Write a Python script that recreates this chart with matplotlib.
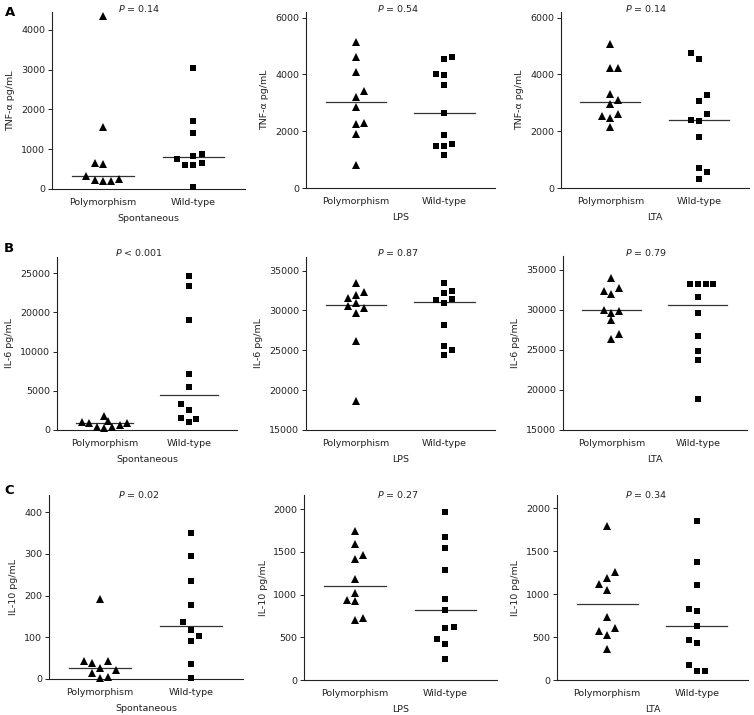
import matplotlib

matplotlib.use("Agg")
import matplotlib.pyplot as plt  # noqa: E402
import numpy as np  # noqa: E402

groups = ["Polymorphism", "Wild-type"]
stimuli = ["Spontaneous", "LPS", "LTA"]
row_letters = ["A", "B", "C"]
y_labels = ["TNF-\u03b1 pg/mL", "IL-6 pg/mL", "IL-10 pg/mL"]
p_texts = [
    ["= 0.14", "= 0.54", "= 0.14"],
    ["< 0.001", "= 0.87", "= 0.79"],
    ["= 0.02", "= 0.27", "= 0.34"],
]

# TNF-alpha (pg/mL); *_slot = side-by-side position of overlapping dots
tnf_spont_poly = [4350, 1550, 650, 620, 330, 230, 190, 190, 240]
tnf_spont_poly_slot = [0, 0, -1, 0, -2, -1, 0, 1, 2]
tnf_spont_wt = [3050, 1720, 1420, 750, 600, 600, 840, 870, 660, 40]
tnf_spont_wt_slot = [0, 0, 0, -2, -1, 0, 0, 1, 1, 0]

tnf_lps_poly = [5150, 4630, 4070, 3400, 3220, 2870, 2260, 2290, 1890, 820]
tnf_lps_poly_slot = [0, 0, 0, 1, 0, 0, 0, 1, 0, 0]
tnf_lps_wt = [4540, 4610, 4010, 3970, 3620, 2640, 1880, 1470, 1470, 1560, 1170]
tnf_lps_wt_slot = [0, 1, -1, 0, 0, 0, 0, -1, 0, 1, 0]

tnf_lta_poly = [5090, 4210, 4230, 3300, 3100, 2960, 2530, 2610, 2460, 2150]
tnf_lta_poly_slot = [0, 0, 1, 0, 1, 0, -1, 1, 0, 0]
tnf_lta_wt = [4740, 4530, 3290, 3080, 2610, 2400, 2360, 1780, 700, 570, 320]
tnf_lta_wt_slot = [-1, 0, 1, 0, 1, -1, 0, 0, 0, 1, 0]

# IL-6 (pg/mL)
il6_spont_poly = [2250, 1500, 1230, 1070, 1180, 860, 540, 320, 430]
il6_spont_poly_slot = [0, 0.5, -3, -2, 3, 2, -1, 0, 1]
il6_spont_wt = [24600, 23000, 17500, 8940, 6850, 4180, 3210, 1870, 1340, 1710]
il6_spont_wt_slot = [0, 0, 0, 0, 0, -1, 0, -1, 0, 1]

il6_lps_poly = [33460, 31580, 31960, 32330, 30580, 30880, 30250, 29670, 26170, 18630]
il6_lps_poly_slot = [0, -1, 0, 1, -1, 0, 1, 0, 0, 0]
il6_lps_wt = [33460, 32170, 32380, 31330, 31420, 30880, 28210, 25500, 25080, 24380]
il6_lps_wt_slot = [0, 0, 1, -1, 1, 0, 0, 0, 1, 0]

il6_lta_poly = [33960, 32390, 32760, 31970, 30020, 29610, 29810, 28780, 27030, 26410]
il6_lta_poly_slot = [0, -1, 1, 0, -1, 0, 1, 0, 1, 0]
il6_lta_wt = [33200, 33200, 33200, 33200, 31540, 29590, 26760, 24900, 23780, 18860]
il6_lta_wt_slot = [-1, 0, 1, 2, 0, 0, 0, 0, 0, 0]

# IL-10 (pg/mL)
il10_spont_poly = [192, 44, 38, 43, 27, 22, 14, 2, 4]
il10_spont_poly_slot = [0, -2, -1, 1, 0, 2, -1, 0, 1]
il10_spont_wt = [350, 294, 235, 177, 137, 117, 103, 90, 35, 3]
il10_spont_wt_slot = [0, 0, 0, 0, -1, 0, 1, 0, 0, 0]

il10_lps_poly = [1742, 1586, 1418, 1461, 1184, 1023, 934, 922, 707, 730]
il10_lps_poly_slot = [0, 0, 0, 1, 0, 0, -1, 0, 0, 1]
il10_lps_wt = [1969, 1672, 1543, 1285, 953, 816, 609, 617, 484, 426, 242]
il10_lps_wt_slot = [0, 0, 0, 0, 0, 0, 0, 1, -1, 0, 0]

il10_lta_poly = [1794, 1257, 1191, 1113, 1043, 732, 576, 603, 521, 362]
il10_lta_poly_slot = [0, 1, 0, -1, 0, 0, -1, 1, 0, 0]
il10_lta_wt = [1848, 1370, 1101, 829, 805, 626, 467, 432, 171, 105, 105]
il10_lta_wt_slot = [0, 0, 0, -1, 0, 0, -1, 0, -1, 0, 1]

panels = [
    [
        (tnf_spont_poly, tnf_spont_poly_slot, tnf_spont_wt, tnf_spont_wt_slot),
        (tnf_lps_poly, tnf_lps_poly_slot, tnf_lps_wt, tnf_lps_wt_slot),
        (tnf_lta_poly, tnf_lta_poly_slot, tnf_lta_wt, tnf_lta_wt_slot),
    ],
    [
        (il6_spont_poly, il6_spont_poly_slot, il6_spont_wt, il6_spont_wt_slot),
        (il6_lps_poly, il6_lps_poly_slot, il6_lps_wt, il6_lps_wt_slot),
        (il6_lta_poly, il6_lta_poly_slot, il6_lta_wt, il6_lta_wt_slot),
    ],
    [
        (il10_spont_poly, il10_spont_poly_slot, il10_spont_wt, il10_spont_wt_slot),
        (il10_lps_poly, il10_lps_poly_slot, il10_lps_wt, il10_lps_wt_slot),
        (il10_lta_poly, il10_lta_poly_slot, il10_lta_wt, il10_lta_wt_slot),
    ],
]

# y axis: (ylim, tick positions, tick labels)
y_axes = [
    [
        ((0, 4450), [0, 1000, 2000, 3000, 4000], None),
        ((0, 6200), [0, 2000, 4000, 6000], None),
        ((0, 6200), [0, 2000, 4000, 6000], None),
    ],
    [
        ((0, 27600), [0, 6250, 12500, 18750, 25000], ["0", "5000", "10000", "20000", "25000"]),
        ((15000, 36700), [15000, 20000, 25000, 30000, 35000], None),
        ((15000, 36700), [15000, 20000, 25000, 30000, 35000], None),
    ],
    [
        ((0, 441), [0, 100, 200, 300, 400], None),
        ((0, 2165), [0, 500, 1000, 1500, 2000], None),
        ((0, 2155), [0, 500, 1000, 1500, 2000], None),
    ],
]

W, H = 754, 715
# axes boxes in pixels: left, bottom, right, top
boxes = [
    [(52, 189, 245, 12), (306, 188, 495, 12), (561, 188, 749, 12)],
    [(57, 430, 237, 257), (306, 430, 495, 257), (563, 430, 747, 256)],
    [(49, 679, 243, 495), (304, 680, 497, 495), (557, 680, 748, 495)],
]
p_x = [139, 398, 646]
p_y = [9, 252, 494]
letter_pos = [(10, 13), (9, 248), (9, 491)]

FS = 6.8
STEP = 0.09
HALF = 0.34

fig = plt.figure(figsize=(W / 100, H / 100), dpi=100)

for r in range(3):
    for c in range(3):
        l, b, rt, t = boxes[r][c]
        ax = fig.add_axes((l / W, 1 - b / H, (rt - l) / W, (b - t) / H))
        poly, poly_slot, wt, wt_slot = panels[r][c]
        for pos, vals, slots, mk, ms in (
            (0, poly, poly_slot, "^", 5.6),
            (1, wt, wt_slot, "s", 4.9),
        ):
            xs = pos + np.array(slots) * STEP
            ax.plot(xs, vals, ls="none", marker=mk, ms=ms, color="black",
                    markeredgewidth=0, clip_on=False, zorder=3)
            med = np.median(vals)
            ax.plot([pos - HALF, pos + HALF], [med, med], color="#333333", lw=0.9, zorder=2)

        ylim, yt, ytl = y_axes[r][c]
        ax.set_ylim(*ylim)
        ax.set_yticks(yt)
        if ytl is not None:
            ax.set_yticklabels(ytl)
        ax.set_xlim(-0.56, 1.57)
        ax.set_xticks([0, 1])
        ax.set_xticklabels(groups)
        ax.tick_params(axis="x", length=0, pad=6.5, labelsize=FS, colors="#222222")
        ax.tick_params(axis="y", length=3, width=0.7, pad=2, labelsize=FS, colors="#222222")
        for side in ("top", "right"):
            ax.spines[side].set_visible(False)
        for side in ("left", "bottom"):
            ax.spines[side].set_linewidth(0.8)
            ax.spines[side].set_color("#222222")
        ax.set_xlabel(stimuli[c], fontsize=FS, labelpad=5, color="#222222")
        ax.set_ylabel(y_labels[r], fontsize=FS, labelpad=4, color="#222222")

        fig.text(p_x[c] / W, 1 - p_y[r] / H, "$P$ " + p_texts[r][c], fontsize=FS,
                 ha="center", va="center", color="#222222")

    lx, ly = letter_pos[r]
    fig.text(lx / W, 1 - ly / H, row_letters[r], fontsize=9.5, fontweight="bold",
             ha="center", va="center")

fig.savefig("out.png", dpi=100)
